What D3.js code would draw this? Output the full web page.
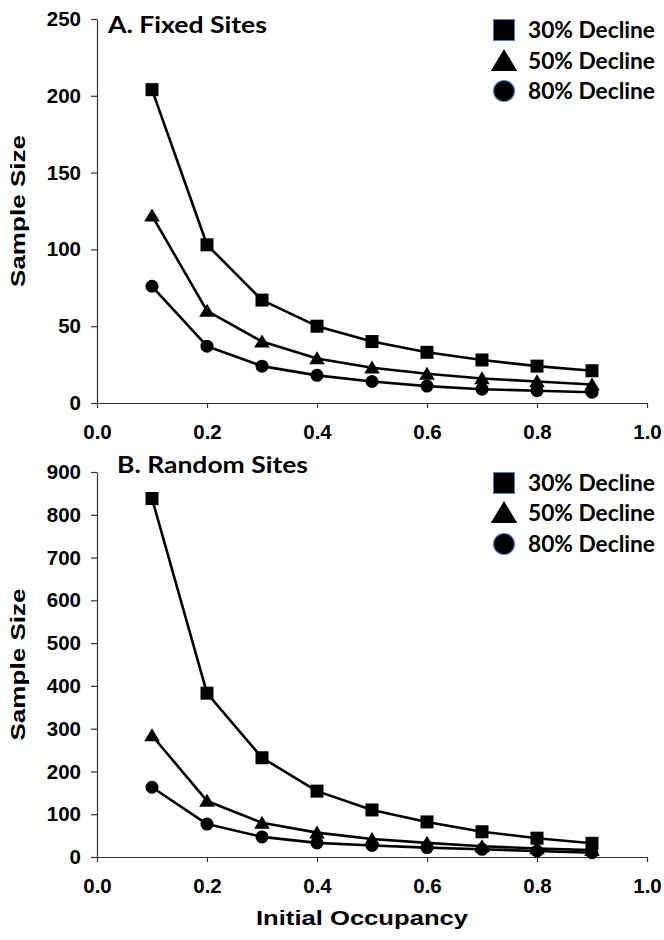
<!DOCTYPE html>
<html>
<head>
<meta charset="utf-8">
<script src="https://cdn.jsdelivr.net/npm/d3@7"></script>
<style>
  html, body { margin: 0; padding: 0; background: #fff; }
  svg { display: block; }
</style>
</head>
<body>
<svg id="chart" width="664" height="940"></svg>
<script>
// ---- Data ----
const occupancy = [0.1, 0.2, 0.3, 0.4, 0.5, 0.6, 0.7, 0.8, 0.9];
const seriesNames = ["30% Decline", "50% Decline", "80% Decline"];
const fixed30 = [204, 103, 67, 50, 40, 33, 28, 24, 21];
const fixed50 = [122, 60, 40, 29, 23, 19, 16, 14, 12];
const fixed80 = [76, 37, 24, 18, 14, 11, 9, 8, 7];
const random30 = [838, 383, 232, 154, 110, 82, 59, 44, 32];
const random50 = [284, 131, 80, 57, 42, 33, 25, 20, 16];
const random80 = [163, 77, 47, 33, 27, 22, 18, 14, 10];
const xTicks = [0.0, 0.2, 0.4, 0.6, 0.8, 1.0];
const yTicksA = [0, 50, 100, 150, 200, 250];
const yTicksB = [0, 100, 200, 300, 400, 500, 600, 700, 800, 900];

const svg = d3.select("#chart");
const arial = "'Liberation Sans', Arial, sans-serif";
const calibri = "Lato, 'Open Sans', sans-serif";

const shapes = ["square", "triangle", "circle"];

function marker(g, shape, cx, cy, s, legend) {
  if (shape === "square") {
    g.append("rect").attr("x", cx - s / 2).attr("y", cy - s / 2)
      .attr("width", s).attr("height", s).attr("fill", "#000")
      .attr("stroke", legend ? "#4f81bd" : "none").attr("stroke-width", 1);
  } else if (shape === "triangle") {
    const w = s * 1.2, h = s * 1.0;
    g.append("path")
      .attr("d", `M${cx},${cy - h * 0.55}L${cx + w / 2},${cy + h * 0.45}L${cx - w / 2},${cy + h * 0.45}Z`)
      .attr("fill", "#000");
  } else {
    g.append("circle").attr("cx", cx).attr("cy", cy).attr("r", s / 2)
      .attr("fill", "#000")
      .attr("stroke", legend ? "#4f81bd" : "none").attr("stroke-width", 1.2);
  }
}

function panel(cfg) {
  const x = d3.scaleLinear().domain([0, 1]).range([97, 647]);
  const y = d3.scaleLinear().domain([0, cfg.yMax]).range([cfg.y0, cfg.yTop]);
  const g = svg.append("g");

  // axes
  const xAxis = d3.axisBottom(x).tickValues(xTicks).tickFormat(d3.format(".1f"))
    .tickSize(5).tickSizeOuter(0);
  const yAxis = d3.axisLeft(y).tickValues(cfg.yTicks).tickFormat(d3.format("d"))
    .tickSize(6).tickSizeOuter(0);

  const gx = g.append("g").attr("transform", `translate(0,${cfg.y0})`).call(xAxis);
  const gy = g.append("g").attr("transform", `translate(97,0)`).call(yAxis);
  [gx, gy].forEach(a => {
    a.select(".domain").attr("stroke", "#333").attr("stroke-width", 1.2);
    a.selectAll(".tick line").attr("stroke", "#333").attr("stroke-width", 1.2);
    a.selectAll("text").attr("font-family", arial).attr("font-weight", "bold")
      .attr("font-size", 20.5).attr("fill", "#000");
  });
  gx.selectAll("text").attr("y", 21);
  gy.selectAll("text").attr("x", -16);

  // series
  const line = d3.line().x((d, i) => x(occupancy[i])).y(d => y(d));
  cfg.series.forEach((vals, si) => {
    g.append("path").attr("d", line(vals)).attr("fill", "none")
      .attr("stroke", "#000").attr("stroke-width", 2.6).attr("stroke-linejoin", "round");
  });
  cfg.series.forEach((vals, si) => {
    const mg = g.append("g");
    vals.forEach((v, i) => marker(mg, shapes[si], x(occupancy[i]), y(v), 13, false));
  });

  // title
  g.append("text").attr("x", cfg.titleX).attr("y", cfg.titleY)
    .attr("font-family", calibri).attr("font-weight", "bold").attr("font-size", 23)
    .attr("textLength", cfg.titleW).attr("lengthAdjust", "spacingAndGlyphs")
    .text(cfg.title);

  // y label
  g.append("text")
    .attr("transform", `translate(25,${(cfg.y0 + cfg.yTop) / 2}) rotate(-90)`)
    .attr("text-anchor", "middle")
    .attr("font-family", arial).attr("font-weight", "bold").attr("font-size", 21)
    .attr("textLength", 152).attr("lengthAdjust", "spacingAndGlyphs")
    .text("Sample Size");

  // legend
  cfg.legendY.forEach((ly, i) => {
    const lg = g.append("g");
    marker(lg, shapes[i], 504, ly - 8, i === 1 ? 22 : 21, true);
    lg.append("text").attr("x", 528).attr("y", ly)
      .attr("font-family", calibri).attr("font-weight", "bold").attr("font-size", 22)
      .attr("textLength", 127).attr("lengthAdjust", "spacingAndGlyphs")
      .text(seriesNames[i]);
  });
}

panel({
  y0: 403, yTop: 19, yMax: 250, yTicks: yTicksA,
  series: [fixed30, fixed50, fixed80],
  title: "A. Fixed Sites", titleX: 108, titleY: 33, titleW: 159,
  legendY: [38, 69, 99]
});
panel({
  y0: 857, yTop: 472, yMax: 900, yTicks: yTicksB,
  series: [random30, random50, random80],
  title: "B. Random Sites", titleX: 117, titleY: 473, titleW: 191,
  legendY: [491, 521, 552]
});

svg.append("text").attr("x", 362).attr("y", 925).attr("text-anchor", "middle")
  .attr("font-family", arial).attr("font-weight", "bold").attr("font-size", 21)
  .attr("textLength", 212).attr("lengthAdjust", "spacingAndGlyphs")
  .text("Initial Occupancy");
</script>
</body>
</html>
